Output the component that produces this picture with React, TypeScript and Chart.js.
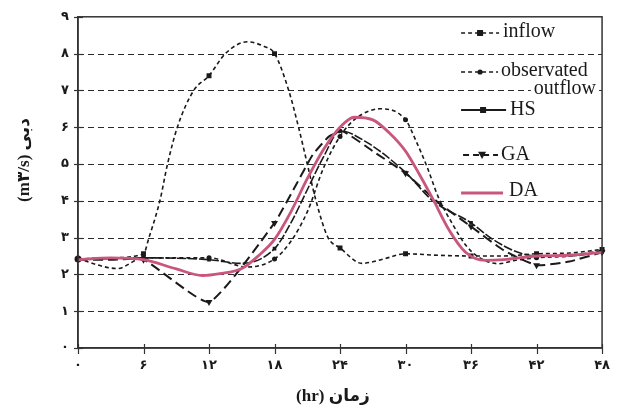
import React, { useEffect, useRef } from 'react';
import { Chart, registerables } from 'chart.js';

Chart.register(...registerables);

// ---------- data (hours / discharge m3/s) ----------
const inflowHours = [0, 3, 6, 6.5, 7.5, 8.2, 9.1, 10.6, 12, 13.5, 15.5, 17, 18, 19.3, 20.2, 21, 21.8, 22.9, 24, 26, 28, 30, 33, 36, 39, 42, 45, 48];
const inflowValues = [2.42, 2.45, 2.56, 3.0, 4.0, 5.0, 6.0, 7.0, 7.4, 8.0, 8.32, 8.2, 8.0, 7.0, 6.0, 5.0, 4.0, 3.0, 2.72, 2.3, 2.42, 2.56, 2.52, 2.5, 2.5, 2.56, 2.58, 2.68];

const observedHours = [0, 3.6, 6, 9, 12, 15.5, 18, 19.5, 21, 22.5, 24, 25.5, 27.7, 30, 31, 32, 33, 34.3, 35.5, 36.7, 38.5, 40, 42, 45, 48];
const observedValues = [2.42, 2.16, 2.45, 2.45, 2.45, 2.2, 2.42, 2.9, 3.7, 4.9, 5.75, 6.25, 6.5, 6.2, 5.6, 4.9, 4.1, 3.37, 2.8, 2.47, 2.29, 2.38, 2.45, 2.5, 2.65];

const hsHours = [0, 6, 12, 15, 18, 19.5, 21, 22.5, 24, 26.5, 30, 32.5, 36, 38, 40.3, 42, 45, 48];
const hsValues = [2.4, 2.45, 2.4, 2.3, 2.7, 3.4, 4.3, 5.2, 5.9, 5.58, 4.77, 4.0, 3.4, 2.95, 2.6, 2.5, 2.5, 2.62];

const gaHours = [0, 3, 6, 12, 18, 20, 21.5, 23, 24.3, 27, 30, 33, 36, 39, 42, 45, 48];
const gaValues = [2.4, 2.4, 2.4, 1.25, 3.4, 4.45, 5.25, 5.75, 5.88, 5.35, 4.75, 3.95, 3.3, 2.65, 2.25, 2.35, 2.6];

const daHours = [0, 3, 6, 9, 11.4, 13, 15, 16.5, 18, 19.5, 21, 22.5, 24, 25.3, 27, 28.5, 30, 31.3, 32.5, 34, 35.5, 37.3, 39, 42, 45, 48];
const daValues = [2.4, 2.45, 2.4, 2.15, 1.97, 2.02, 2.16, 2.5, 2.95, 3.7, 4.6, 5.4, 6.0, 6.27, 6.2, 5.85, 5.35, 4.7, 4.05, 3.2, 2.6, 2.38, 2.4, 2.5, 2.52, 2.6];

const xTickValues = [0, 6, 12, 18, 24, 30, 36, 42, 48];
const yTickValues = [0, 1, 2, 3, 4, 5, 6, 7, 8, 9];
const gridValues = [1, 2, 3, 4, 5, 6, 7, 8];

const seriesNames = ['inflow', 'observated outflow', 'HS', 'GA', 'DA'];
const xTitle = '(hr) زمان';
const yTitle = '(m۳/s) دبی';

const PINK = '#c9567d';
const INK = '#1a1a1a';

const faDigits = (n: number) => String(n).replace(/\d/g, (d) => '۰۱۲۳۴۵۶۷۸۹'[+d]);
const toXY = (xs: number[], ys: number[]) => xs.map((x, i) => ({ x, y: ys[i] }));
const isSixHour = (x: number) => Math.abs(x % 6) < 1e-9;

const decorPlugin = {
  id: 'decor',
  beforeDraw(chart: any) {
    const { ctx, width, height } = chart;
    ctx.save();
    ctx.fillStyle = '#fff';
    ctx.fillRect(0, 0, width, height);
    ctx.restore();
  },
  beforeDatasetsDraw(chart: any) {
    const { ctx, chartArea } = chart;
    const ys = chart.scales.y;
    ctx.save();
    ctx.setLineDash([6, 4]);
    ctx.strokeStyle = '#2a2a2a';
    ctx.lineWidth = 1.2;
    gridValues.forEach((v) => {
      const py = Math.round(ys.getPixelForValue(v)) + 0.5;
      ctx.beginPath();
      ctx.moveTo(chartArea.left, py);
      ctx.lineTo(chartArea.right, py);
      ctx.stroke();
    });
    ctx.restore();
  },
  afterDraw(chart: any) {
    const { ctx, chartArea } = chart;
    const { left, right, top, bottom } = chartArea;
    const xs = chart.scales.x;
    const ys = chart.scales.y;
    ctx.save();
    // frame
    ctx.setLineDash([]);
    ctx.strokeStyle = '#333';
    ctx.lineWidth = 1.5;
    ctx.strokeRect(left, top, right - left, bottom - top);
    // cross ticks
    ctx.lineWidth = 1.2;
    yTickValues.forEach((v) => {
      const py = Math.round(ys.getPixelForValue(v)) + 0.5;
      ctx.beginPath();
      ctx.moveTo(left - 4, py);
      ctx.lineTo(left + 5, py);
      ctx.stroke();
    });
    xTickValues.forEach((v) => {
      const px = Math.round(xs.getPixelForValue(v)) + 0.5;
      ctx.beginPath();
      ctx.moveTo(px, bottom - 4);
      ctx.lineTo(px, bottom + 6);
      ctx.stroke();
    });

    // titles
    ctx.fillStyle = INK;
    ctx.font = 'bold 17px "Liberation Serif", "DejaVu Sans", serif';
    ctx.textAlign = 'center';
    ctx.textBaseline = 'middle';
    ctx.fillText(xTitle, 333, 397);
    ctx.save();
    ctx.translate(25, 160);
    ctx.rotate(-Math.PI / 2);
    ctx.fillText(yTitle, 0, 0);
    ctx.restore();

    // legend
    const lx = right - 141;
    const font = '20px "Liberation Serif", "DejaVu Serif", serif';
    ctx.font = font;
    const label = (text: string, x: number, y: number, align: 'left' | 'right') => {
      const w = ctx.measureText(text).width;
      const x0 = align === 'left' ? x : x - w;
      ctx.fillStyle = '#fff';
      ctx.fillRect(x0 - 3, y - 9, w + 6, 18);
      ctx.fillStyle = INK;
      ctx.textAlign = align;
      ctx.textBaseline = 'middle';
      ctx.fillText(text, x, y);
    };
    const seg = (x1: number, x2: number, y: number, dash: number[], color: string, lw: number) => {
      ctx.save();
      ctx.setLineDash(dash);
      ctx.strokeStyle = color;
      ctx.lineWidth = lw;
      ctx.beginPath();
      ctx.moveTo(x1, y);
      ctx.lineTo(x2, y);
      ctx.stroke();
      ctx.restore();
    };
    const square = (x: number, y: number, s: number) => {
      ctx.fillStyle = INK;
      ctx.fillRect(x - s / 2, y - s / 2, s, s);
    };
    const dot = (x: number, y: number, r: number) => {
      ctx.fillStyle = INK;
      ctx.beginPath();
      ctx.arc(x, y, r, 0, Math.PI * 2);
      ctx.fill();
    };
    const tri = (x: number, y: number, r: number) => {
      ctx.fillStyle = INK;
      ctx.beginPath();
      ctx.moveTo(x - r, y - r * 0.8);
      ctx.lineTo(x + r, y - r * 0.8);
      ctx.lineTo(x, y + r);
      ctx.closePath();
      ctx.fill();
    };
    const [nInflow, nObs, nHS, nGA, nDA] = seriesNames;
    const obsParts = nObs.split(' ');

    // inflow
    ctx.fillStyle = '#fff';
    ctx.fillRect(lx - 2, 26, 42, 14);
    seg(lx, lx + 38, 33, [4, 3], INK, 1.5);
    square(lx + 19, 33, 6);
    label(nInflow, lx + 42, 32, 'left');
    // observed outflow
    ctx.fillStyle = '#fff';
    ctx.fillRect(lx - 2, 66, 42, 12);
    seg(lx, lx + 38, 72, [4, 3], INK, 1.5);
    dot(lx + 19, 72, 2.6);
    label(obsParts[0], lx + 40, 71, 'left');
    label(obsParts[1], lx + 135, 89, 'right');
    // HS
    ctx.fillStyle = '#fff';
    ctx.fillRect(lx - 2, 104, 48, 12);
    seg(lx, lx + 45, 110, [], INK, 2);
    square(lx + 22, 110, 6);
    label(nHS, lx + 49, 110, 'left');
    // GA
    ctx.fillStyle = '#fff';
    ctx.fillRect(lx, 149, 40, 12);
    seg(lx + 2, lx + 37, 155, [6, 4], INK, 2);
    tri(lx + 21, 155, 4);
    label(nGA, lx + 40, 155, 'left');
    // DA
    seg(lx, lx + 42, 193, [], PINK, 3);
    label(nDA, lx + 48, 191, 'left');

    ctx.restore();
  },
};

export default function App() {
  const ref = useRef<HTMLCanvasElement>(null);
  useEffect(() => {
    document.body.style.margin = '0';
    const canvas = ref.current;
    if (!canvas) return;
    const common = {
      fill: false,
      borderColor: INK,
      pointBackgroundColor: INK,
      pointBorderColor: INK,
      pointBorderWidth: 0,
      cubicInterpolationMode: 'monotone' as const,
      clip: 10,
    };
    const chart = new Chart(canvas, {
      type: 'line',
      data: {
        datasets: [
          {
            ...common,
            label: seriesNames[4],
            data: toXY(daHours, daValues),
            borderColor: PINK,
            borderWidth: 2.8,
            pointRadius: 0,
            order: 0,
          },
          {
            ...common,
            label: seriesNames[0],
            data: toXY(inflowHours, inflowValues),
            borderWidth: 1.6,
            borderDash: [4, 3],
            pointStyle: (c: any) => (c.raw && c.raw.x === 0 ? 'circle' : 'rect'),
            pointRadius: (c: any) => (c.raw && isSixHour(c.raw.x) ? 3.5 : 0),
            order: 1,
          },
          {
            ...common,
            label: seriesNames[1],
            data: toXY(observedHours, observedValues),
            borderWidth: 1.6,
            borderDash: [4, 3],
            pointStyle: 'circle',
            pointRadius: (c: any) => (c.raw && isSixHour(c.raw.x) && c.raw.x > 0 ? 2.5 : 0),
            order: 2,
          },
          {
            ...common,
            label: seriesNames[2],
            data: toXY(hsHours, hsValues),
            borderWidth: 1.6,
            borderDash: [9, 2],
            pointStyle: 'rect',
            pointRadius: (c: any) => (c.raw && isSixHour(c.raw.x) && c.raw.x > 0 ? 2.6 : 0),
            order: 3,
          },
          {
            ...common,
            label: seriesNames[3],
            data: toXY(gaHours, gaValues),
            borderWidth: 2,
            borderDash: [10, 5],
            cubicInterpolationMode: 'default' as const,
            tension: 0.15,
            pointStyle: 'triangle',
            rotation: 180,
            pointRadius: (c: any) => (c.raw && isSixHour(c.raw.x) && c.raw.x > 0 ? 4 : 0),
            order: 4,
          },
        ],
      },
      options: {
        responsive: false,
        animation: false,
        events: [],
        layout: { padding: { left: 0, top: 15, right: 9, bottom: 0 } },
        plugins: { legend: { display: false }, tooltip: { enabled: false }, title: { display: false } },
        scales: {
          x: {
            type: 'linear',
            min: 0,
            max: 48,
            afterFit: (s: any) => {
              s.height = 61;
            },
            afterBuildTicks: (s: any) => {
              s.ticks = xTickValues.map((v) => ({ value: v }));
            },
            ticks: {
              callback: (v: any) => faDigits(Number(v)),
              font: { family: '"DejaVu Sans", sans-serif', size: 13, weight: 'bold' },
              color: INK,
              padding: 10,
              maxRotation: 0,
              autoSkip: false,
            },
            grid: { display: false, drawTicks: false },
            border: { display: true, color: '#333', width: 1.5 },
          },
          y: {
            type: 'linear',
            min: 0,
            max: 9,
            afterFit: (s: any) => {
              s.width = 78;
            },
            afterBuildTicks: (s: any) => {
              s.ticks = yTickValues.map((v) => ({ value: v }));
            },
            ticks: {
              callback: (v: any) => faDigits(Number(v)),
              font: { family: '"DejaVu Sans", sans-serif', size: 13, weight: 'bold' },
              color: INK,
              padding: 9,
              autoSkip: false,
            },
            grid: { display: false, drawTicks: false },
            border: { display: true, color: '#333', width: 1.5 },
          },
        },
      },
      plugins: [decorPlugin],
    } as any);
    return () => chart.destroy();
  }, []);
  return (
    <div style={{ width: 620, height: 409, background: '#fff' }}>
      <canvas ref={ref} width={620} height={409} style={{ display: 'block', width: 620, height: 409 }} />
    </div>
  );
}
